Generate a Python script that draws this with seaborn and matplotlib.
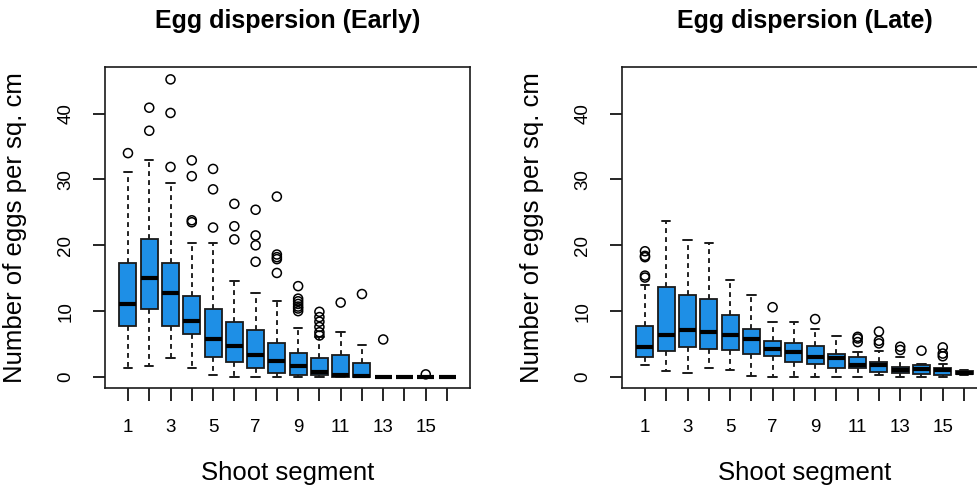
import matplotlib
matplotlib.use("Agg")
import matplotlib.pyplot as plt
import pandas as pd
import seaborn as sns

# ---------------- data ----------------
segments = [str(i) for i in range(1, 17)]

early_low = [1.4, 1.6, 2.9, 1.4, 0.35, 0.0, 0.0, 0.0, 0.0, 0.0, 0.0, 0.0, 0.0, 0.0, 0.0, 0.0]
early_q1 = [7.75, 10.3, 7.75, 6.6, 3.1, 2.3, 1.4, 0.66, 0.35, 0.25, 0.0, 0.0, 0.0, 0.0, 0.0, 0.0]
early_med = [11.1, 15.1, 12.7, 8.5, 5.8, 4.7, 3.4, 2.4, 1.67, 0.76, 0.25, 0.2, 0.0, 0.0, 0.0, 0.0]
early_q3 = [17.3, 20.9, 17.3, 12.35, 10.4, 8.4, 7.2, 5.2, 3.7, 2.9, 3.4, 2.1, 0.0, 0.0, 0.0, 0.0]
early_high = [31.1, 33.0, 29.5, 20.4, 20.4, 14.6, 12.7, 11.6, 7.4, 6.0, 6.8, 4.8, 0.0, 0.0, 0.0, 0.0]
early_outliers = [
    [34.0],
    [37.4, 40.9],
    [31.9, 40.1, 45.2],
    [23.5, 23.8, 30.5, 32.9],
    [22.7, 28.5, 31.6],
    [20.9, 22.9, 26.3],
    [17.5, 20.0, 21.5, 25.4],
    [15.8, 17.9, 18.2, 18.6, 27.4],
    [10.0, 10.4, 10.7, 11.1, 11.5, 11.9, 13.8],
    [6.3, 6.8, 7.6, 8.4, 9.1, 9.9],
    [11.3],
    [12.6],
    [5.7],
    [],
    [0.4],
    [],
]

late_low = [1.8, 0.9, 0.6, 1.4, 1.1, 0.15, 0.0, 0.0, 0.0, 0.0, 0.0, 0.25, 0.0, 0.0, 0.0, 0.3]
late_q1 = [3.1, 3.9, 4.6, 4.3, 4.1, 3.5, 3.2, 2.3, 2.0, 1.37, 1.37, 0.8, 0.6, 0.4, 0.36, 0.4]
late_med = [4.6, 6.35, 7.1, 6.9, 6.35, 5.8, 4.3, 3.8, 3.05, 2.95, 1.78, 1.78, 1.07, 1.27, 1.0, 0.65]
late_q3 = [7.8, 13.6, 12.4, 11.9, 9.4, 7.3, 5.4, 5.2, 4.7, 3.56, 3.05, 2.3, 1.5, 1.78, 1.4, 0.9]
late_high = [13.9, 23.7, 20.8, 20.3, 14.7, 12.4, 8.3, 8.3, 7.3, 6.3, 3.8, 4.0, 3.05, 2.0, 2.0, 1.0]
late_outliers = [
    [15.1, 15.4, 18.2, 18.4, 19.1],
    [], [], [], [], [],
    [10.6],
    [],
    [8.8],
    [],
    [5.3, 5.85, 6.1],
    [5.1, 5.5, 6.9],
    [4.1, 4.6],
    [4.0],
    [3.15, 3.56, 4.5],
    [],
]

titles = ["Egg dispersion (Early)", "Egg dispersion (Late)"]
x_label = "Shoot segment"
y_label = "Number of eggs per sq. cm"
y_ticks = [0, 10, 20, 30, 40]

BOX_COLOR = "#1E8FE6"


def box_frame(lo, q1, med, q3, hi):
    rows = []
    for s, a, b, c, d, e in zip(segments, lo, q1, med, q3, hi):
        for v in (a, b, c, d, e):
            rows.append((s, v))
    return pd.DataFrame(rows, columns=["segment", "eggs"])


def outlier_frame(outs):
    rows = [(s, v) for s, vals in zip(segments, outs) for v in vals]
    df = pd.DataFrame(rows, columns=["segment", "eggs"])
    df["segment"] = pd.Categorical(df["segment"], categories=segments)
    return df


sns.set_theme(style="ticks")
plt.rcParams["font.family"] = ["Liberation Sans", "DejaVu Sans"]

W, H = 977, 490
fig = plt.figure(figsize=(W / 100, H / 100), dpi=100)
fig.patch.set_facecolor("white")

panels = [
    (105, box_frame(early_low, early_q1, early_med, early_q3, early_high), outlier_frame(early_outliers), titles[0]),
    (622, box_frame(late_low, late_q1, late_med, late_q3, late_high), outlier_frame(late_outliers), titles[1]),
]

for left_px, bdf, odf, title in panels:
    ax = fig.add_axes([left_px / W, (H - 388) / H, 365 / W, 321 / H])
    sns.boxplot(
        data=bdf, x="segment", y="eggs", order=segments, ax=ax,
        color=BOX_COLOR, saturation=1, width=0.8, whis=(0, 100),
        showfliers=False, linecolor="#1a1a1a", linewidth=1.3,
        medianprops=dict(color="black", linewidth=3.0),
        whiskerprops=dict(linestyle=(0, (2.6, 2.2)), linewidth=1.35),
        capprops=dict(linewidth=1.4),
    )
    sns.stripplot(
        data=odf, x="segment", y="eggs", order=segments, ax=ax,
        jitter=False, color="white", edgecolor="black", linewidth=1.0,
        size=6.5, zorder=5,
    )
    for coll in ax.collections:
        coll.set_facecolor("none")
        coll.set_edgecolor("black")
        coll.set_linewidth(1.1)

    ax.set_xlim(-1.08, 16.08)
    ax.set_ylim(-1.67, 47.08)
    ax.set_yticks(y_ticks)
    ax.set_yticklabels([str(t) for t in y_ticks], rotation=90, va="center")
    ax.set_xticks(range(len(segments)))
    ax.set_xticklabels([s if int(s) % 2 == 1 else "" for s in segments])
    ax.tick_params(axis="both", length=9, width=1.2, pad=13, labelsize=13.5,
                   color="black", labelcolor="black")
    for sp in ax.spines.values():
        sp.set_visible(True)
        sp.set_linewidth(1.2)
        sp.set_color("#1a1a1a")
    ax.set_xlabel(x_label, fontsize=18.5, labelpad=18, color="black")
    ax.set_ylabel(y_label, fontsize=18.5, labelpad=22, color="black")
    ax.set_title(title, fontsize=18, fontweight="bold", pad=28, color="black")
    ax.set_facecolor("white")

fig.savefig("out.png", dpi=100)
